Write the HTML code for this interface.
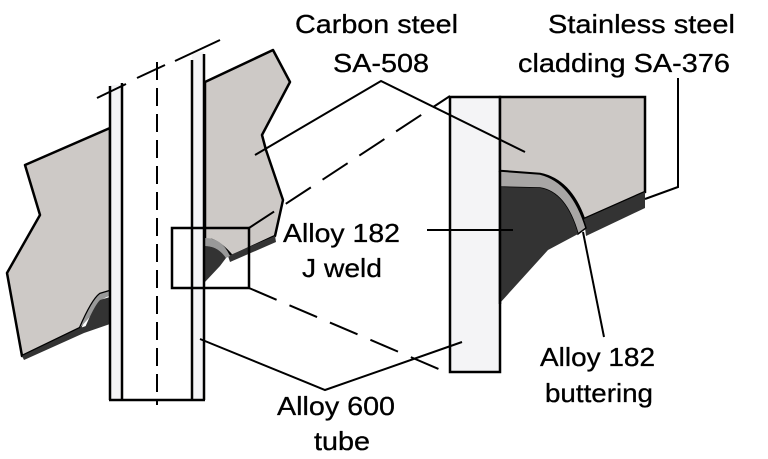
<!DOCTYPE html>
<html><head><meta charset="utf-8"><style>
html,body{margin:0;padding:0;background:#fff;}
svg{display:block;}
text{font-family:"Liberation Sans",Arial,sans-serif;font-size:26px;fill:#000;stroke:#000;stroke-width:0.3px;}
</style></head><body>
<svg width="768" height="459" viewBox="0 0 768 459" xmlns="http://www.w3.org/2000/svg">
<!-- left plate -->
<path d="M110,128 L25,165 L40,215 L7,273 L22,356 L80,328 Q92,300 100,294 L110,291 Z" fill="#cdc9c6" stroke="#000" stroke-width="2.5" stroke-linejoin="round"/>
<path d="M22,356 L80,328 L110,318 L110,324 L84,333 L24,360 Z" fill="#333"/>
<path d="M80,328 Q92,300 100,294 L110,291 L110,296 Q100,298 96,310 Z" fill="#999"/>
<path d="M84,330 Q94,306 100,300 L110,297 L110,320 Z" fill="#333"/>
<!-- right plate -->
<path d="M205,82 L273,50 L290,82 L262,135 L266,150 L283,200 L275,236 L232,256 Q222,244 212,240 L205,240 Z" fill="#cdc9c6" stroke="#000" stroke-width="2.5" stroke-linejoin="round"/>
<path d="M228,256 L275,236 L276,242 L230,262 Z" fill="#333"/>
<path d="M205,238 Q222,238 230,256 L226,258 Q218,246 205,246 Z" fill="#999"/>
<path d="M205,246 Q218,246 226,258 L220,266 L205,282 Z" fill="#333"/>
<!-- tube -->
<rect x="110" y="85" width="12" height="315" fill="#f4f4f6"/>
<rect x="192" y="52" width="12" height="348" fill="#f4f4f6"/>
<g stroke="#000" stroke-width="2.5" fill="none">
<line x1="110" y1="86" x2="110" y2="400"/>
<line x1="122" y1="83" x2="122" y2="400"/>
<line x1="192" y1="60" x2="192" y2="400"/>
<line x1="204" y1="54" x2="204" y2="400"/>
<line x1="109" y1="400" x2="205" y2="400"/>
<line x1="97" y1="98" x2="126" y2="84" stroke-width="2"/>
<line x1="137" y1="78" x2="165" y2="65" stroke-width="2"/>
<line x1="175" y1="61" x2="220" y2="40" stroke-width="2"/>
<line x1="157" y1="62" x2="157" y2="405" stroke-width="2" stroke-dasharray="18,8"/>
<rect x="172" y="228" width="77" height="60" stroke-width="2.5"/>
<line x1="249" y1="228" x2="450" y2="96" stroke-width="2" stroke-dasharray="30,14"/>
<line x1="249" y1="288" x2="448" y2="373" stroke-width="2" stroke-dasharray="30,14"/>
</g>
<!-- detail -->
<rect x="450" y="97" width="50" height="275" fill="#f4f4f6" stroke="#000" stroke-width="2.5"/>
<path d="M500,97 L645,97 L645,192 L584,219 Q570,180 540,174 L500,171 Z" fill="#cdc9c6" stroke="#000" stroke-width="2.5"/>
<path d="M584,219 L645,192 L645,208 L586,236 Z" fill="#333"/>
<path d="M500,171 L540,174 Q572,182 586,228 L578,234 Q566,192 540,188 L500,187 Z" fill="#a8a6a5" stroke="#000" stroke-width="1.5"/>
<path d="M500,187 L540,188 Q566,192 578,234 L548,250 L500,303 Z" fill="#333"/>
<line x1="500" y1="171" x2="500" y2="304" stroke="#000" stroke-width="2.5"/>
<!-- leaders -->
<g stroke="#000" stroke-width="2" fill="none">
<polyline points="255,155 381,81 525,152"/>
<polyline points="645,199 678,187 678,78"/>
<line x1="427" y1="230" x2="513" y2="230"/>
<polyline points="200,339 325,390 462,342"/>
<line x1="604" y1="337" x2="583" y2="232"/>
</g>
<text x="295" y="33" textLength="163" lengthAdjust="spacingAndGlyphs">Carbon steel</text>
<text x="333" y="72" textLength="96" lengthAdjust="spacingAndGlyphs">SA-508</text>
<text x="548" y="33" textLength="187" lengthAdjust="spacingAndGlyphs">Stainless steel</text>
<text x="518" y="72" textLength="212" lengthAdjust="spacingAndGlyphs">cladding SA-376</text>
<text x="283" y="242" textLength="117" lengthAdjust="spacingAndGlyphs">Alloy 182</text>
<text x="302" y="277" textLength="80" lengthAdjust="spacingAndGlyphs">J weld</text>
<text x="277" y="415" textLength="118" lengthAdjust="spacingAndGlyphs">Alloy 600</text>
<text x="314" y="450" textLength="56" lengthAdjust="spacingAndGlyphs">tube</text>
<text x="540" y="366" textLength="115" lengthAdjust="spacingAndGlyphs">Alloy 182</text>
<text x="545" y="402" textLength="108" lengthAdjust="spacingAndGlyphs">buttering</text>
</svg>
</body></html>
